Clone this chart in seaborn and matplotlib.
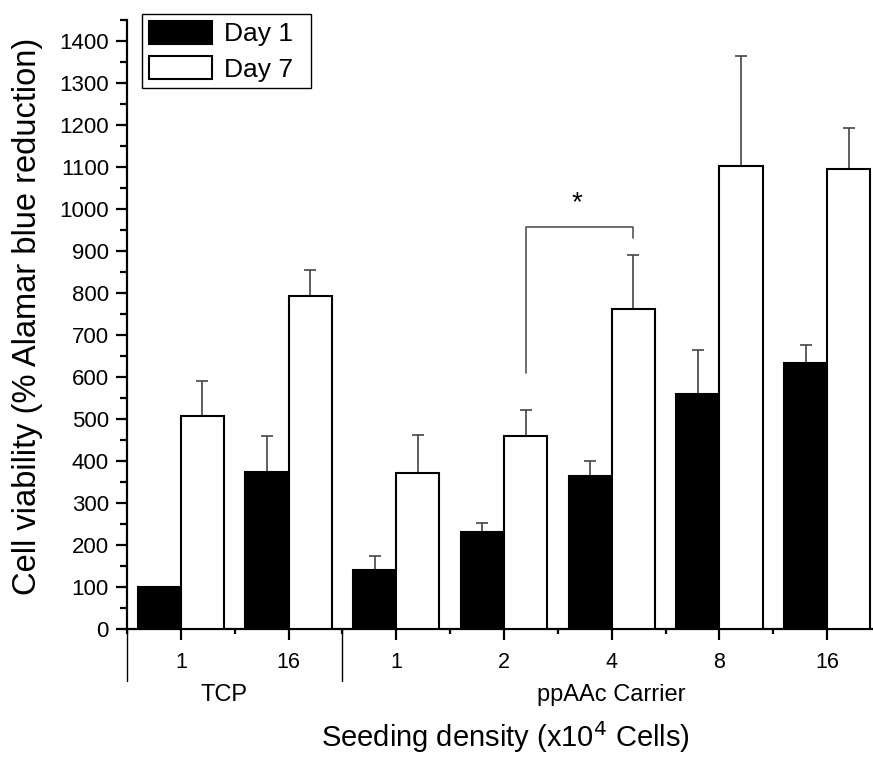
import matplotlib
matplotlib.use("Agg")
import matplotlib.pyplot as plt
import matplotlib.patches as mpatches
from matplotlib.ticker import MultipleLocator, FixedLocator
import numpy as np
import pandas as pd
import seaborn as sns

# ---------------- data ----------------
groups = ["TCP", "TCP", "ppAAc Carrier", "ppAAc Carrier", "ppAAc Carrier", "ppAAc Carrier", "ppAAc Carrier"]
densities = ["1", "16", "1", "2", "4", "8", "16"]
day1 = [100, 375, 142, 231, 364, 560, 635]
day1_err = [0, 86, 33, 22, 37, 104, 43]
day7 = [508, 794, 372, 461, 762, 1104, 1096]
day7_err = [83, 61, 91, 62, 130, 262, 98]
series = ["Day 1", "Day 7"]
group_names = ["TCP", "ppAAc Carrier"]

cats = [f"{g} {d}" for g, d in zip(groups, densities)]
df = pd.DataFrame({
    "cat": cats * 2,
    "value": day1 + day7,
    "day": ["Day 1"] * len(cats) + ["Day 7"] * len(cats),
})

# ---------------- style ----------------
sns.set_style("ticks")
plt.rcParams["font.family"] = ["Liberation Sans", "DejaVu Sans"]
plt.rcParams["text.color"] = "black"
plt.rcParams["axes.labelcolor"] = "black"

W, H = 873, 759
fig = plt.figure(figsize=(W / 100, H / 100), dpi=100)
left = 127 / W
bottom = 1 - 629.3 / H
top = 1 - 20.3 / H
ax = fig.add_axes([left, bottom, 754 / W, top - bottom])

sns.barplot(data=df, x="cat", y="value", hue="day", order=cats, hue_order=series,
            palette={"Day 1": "black", "Day 7": "white"}, edgecolor="black",
            linewidth=1.5, errorbar=None, width=0.8, legend=False, ax=ax, zorder=3)

# error bars (upper only)
for cont, errs in zip(ax.containers, [day1_err, day7_err]):
    xs, hs, es = [], [], []
    for bar, e in zip(cont, errs):
        if e > 0:
            xs.append(bar.get_x() + bar.get_width() / 2)
            hs.append(bar.get_height())
            es.append(e)
    ax.errorbar(xs, hs, yerr=[np.zeros(len(es)), es], fmt="none", ecolor="#444444",
                elinewidth=1.2, capsize=4.3, capthick=1.2, zorder=2)

ax.set_xlim(-0.5, 6.5)
ax.set_ylim(0, 1450)
ax.yaxis.set_major_locator(FixedLocator(np.arange(0, 1401, 100)))
ax.yaxis.set_minor_locator(MultipleLocator(50))
ax.set_xticks(range(len(cats)))
ax.set_xticklabels(densities)
ax.xaxis.set_minor_locator(FixedLocator(np.arange(-0.5, 7, 1.0)))
ax.set_xlabel("")
ax.set_ylabel("")

for s in ["top", "right"]:
    ax.spines[s].set_visible(False)
for s in ["left", "bottom"]:
    ax.spines[s].set_linewidth(1.6)
    ax.spines[s].set_color("black")

ax.tick_params(axis="both", which="major", direction="out", length=8, width=1.6,
               color="black", labelcolor="black", pad=5)
ax.tick_params(axis="y", which="major", labelsize=16)
ax.tick_params(axis="x", which="major", labelsize=15.5, pad=8)
ax.tick_params(axis="y", which="minor", direction="out", length=5, width=1.6, color="black")
ax.tick_params(axis="x", which="minor", direction="out", length=3.5, width=1.6, color="black")

# group separator lines and group labels
trans = matplotlib.transforms.blended_transform_factory(ax.transData, ax.transAxes)
for xv in [-0.5, 1.5, 6.5]:
    ax.plot([xv, xv], [0, -0.085], transform=trans, color="black", lw=1.0, clip_on=False)
ax.text(0.4, -0.108, group_names[0], transform=trans, ha="center", va="center", fontsize=17, color="black")
ax.text(4.0, -0.108, group_names[1], transform=trans, ha="center", va="center", fontsize=17, color="black")

# significance bracket between Day 7 bars of ppAAc 2 and ppAAc 4
b2 = ax.containers[1][3]
b4 = ax.containers[1][4]
x2 = b2.get_x() + b2.get_width() / 2
x4 = b4.get_x() + b4.get_width() / 2
ax.plot([x2, x2, x4, x4], [610, 957, 957, 932], color="#555555", lw=1.2, zorder=4)
ax.text((x2 + x4) / 2 - 0.02, 1015, "*", ha="center", va="center", fontsize=20, color="black")

# legend
handles = [mpatches.Patch(facecolor="black", edgecolor="black", linewidth=1.5, label="Day 1"),
           mpatches.Patch(facecolor="white", edgecolor="black", linewidth=1.5, label="Day 7")]
leg = fig.legend(handles=handles, loc="upper left",
                 bbox_to_anchor=(142 / W, 1 - 88 / H, 169 / W, 74 / H), mode="expand",
                 bbox_transform=fig.transFigure, fontsize=19, frameon=True, fancybox=False,
                 framealpha=1, edgecolor="black", borderpad=0.25, handlelength=2.42,
                 handleheight=1.0, labelspacing=0.35, handletextpad=0.45, borderaxespad=0)
leg.get_frame().set_linewidth(1.0)
for t in leg.get_texts():
    t.set_color("black")

# axis titles
fig.text(505 / W, 1 - 737 / H, "Seeding density (x10$^4$ Cells)", ha="center", va="center",
         fontsize=21, color="black")
fig.text(28 / W, 1 - 316 / H, "Cell viability (% Alamar blue reduction)", ha="center", va="center",
         rotation=90, fontsize=23.5, color="black")

fig.savefig("out.png", dpi=100)
